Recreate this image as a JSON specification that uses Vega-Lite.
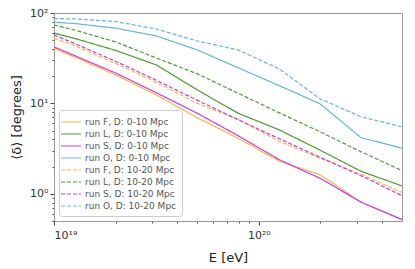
{
  "$schema": "https://vega.github.io/schema/vega-lite/v6.json",
  "width": 348,
  "height": 208,
  "autosize": {"type": "none"},
  "padding": {"left": 54, "top": 13, "right": 13, "bottom": 48},
  "background": "white",
  "config": {
    "font": "DejaVu Sans",
    "view": {"stroke": "#999999", "strokeWidth": 1}
  },
  "datasets": {
    "rows": [
      {"series": "run F, D: 0-10 Mpc", "E": 1e19, "delta": 40.5},
      {"series": "run F, D: 0-10 Mpc", "E": 1.259e19, "delta": 32.6},
      {"series": "run F, D: 0-10 Mpc", "E": 1.995e19, "delta": 20.7},
      {"series": "run F, D: 0-10 Mpc", "E": 3.162e19, "delta": 12.4},
      {"series": "run F, D: 0-10 Mpc", "E": 5.012e19, "delta": 6.92},
      {"series": "run F, D: 0-10 Mpc", "E": 7.943e19, "delta": 4.10},
      {"series": "run F, D: 0-10 Mpc", "E": 1.259e20, "delta": 2.29},
      {"series": "run F, D: 0-10 Mpc", "E": 1.995e20, "delta": 1.62},
      {"series": "run F, D: 0-10 Mpc", "E": 3.162e20, "delta": 0.806},
      {"series": "run F, D: 0-10 Mpc", "E": 5.012e20, "delta": 0.52},
      {"series": "run L, D: 0-10 Mpc", "E": 1e19, "delta": 60},
      {"series": "run L, D: 0-10 Mpc", "E": 1.259e19, "delta": 52.4},
      {"series": "run L, D: 0-10 Mpc", "E": 1.995e19, "delta": 38.6},
      {"series": "run L, D: 0-10 Mpc", "E": 3.162e19, "delta": 26.6},
      {"series": "run L, D: 0-10 Mpc", "E": 5.012e19, "delta": 14.1},
      {"series": "run L, D: 0-10 Mpc", "E": 7.943e19, "delta": 7.76},
      {"series": "run L, D: 0-10 Mpc", "E": 1.259e20, "delta": 5.09},
      {"series": "run L, D: 0-10 Mpc", "E": 1.995e20, "delta": 3.03},
      {"series": "run L, D: 0-10 Mpc", "E": 3.162e20, "delta": 1.77},
      {"series": "run L, D: 0-10 Mpc", "E": 5.012e20, "delta": 1.22},
      {"series": "run S, D: 0-10 Mpc", "E": 1e19, "delta": 42.1},
      {"series": "run S, D: 0-10 Mpc", "E": 1.259e19, "delta": 33.8},
      {"series": "run S, D: 0-10 Mpc", "E": 1.995e19, "delta": 21.7},
      {"series": "run S, D: 0-10 Mpc", "E": 3.162e19, "delta": 13.1},
      {"series": "run S, D: 0-10 Mpc", "E": 5.012e19, "delta": 7.76},
      {"series": "run S, D: 0-10 Mpc", "E": 7.943e19, "delta": 4.38},
      {"series": "run S, D: 0-10 Mpc", "E": 1.259e20, "delta": 2.38},
      {"series": "run S, D: 0-10 Mpc", "E": 1.995e20, "delta": 1.48},
      {"series": "run S, D: 0-10 Mpc", "E": 3.162e20, "delta": 0.806},
      {"series": "run S, D: 0-10 Mpc", "E": 5.012e20, "delta": 0.516},
      {"series": "run O, D: 0-10 Mpc", "E": 1e19, "delta": 79},
      {"series": "run O, D: 0-10 Mpc", "E": 1.259e19, "delta": 76.5},
      {"series": "run O, D: 0-10 Mpc", "E": 1.995e19, "delta": 68},
      {"series": "run O, D: 0-10 Mpc", "E": 3.162e19, "delta": 55.7},
      {"series": "run O, D: 0-10 Mpc", "E": 5.012e19, "delta": 39},
      {"series": "run O, D: 0-10 Mpc", "E": 7.943e19, "delta": 24.7},
      {"series": "run O, D: 0-10 Mpc", "E": 1.259e20, "delta": 15.7},
      {"series": "run O, D: 0-10 Mpc", "E": 1.995e20, "delta": 9.87},
      {"series": "run O, D: 0-10 Mpc", "E": 3.162e20, "delta": 4.16},
      {"series": "run O, D: 0-10 Mpc", "E": 5.012e20, "delta": 3.2},
      {"series": "run F, D: 10-20 Mpc", "E": 1e19, "delta": 52.5},
      {"series": "run F, D: 10-20 Mpc", "E": 1.259e19, "delta": 43.7},
      {"series": "run F, D: 10-20 Mpc", "E": 1.995e19, "delta": 27.7},
      {"series": "run F, D: 10-20 Mpc", "E": 3.162e19, "delta": 17.1},
      {"series": "run F, D: 10-20 Mpc", "E": 5.012e19, "delta": 10.0},
      {"series": "run F, D: 10-20 Mpc", "E": 7.943e19, "delta": 6.65},
      {"series": "run F, D: 10-20 Mpc", "E": 1.259e20, "delta": 3.80},
      {"series": "run F, D: 10-20 Mpc", "E": 1.995e20, "delta": 2.47},
      {"series": "run F, D: 10-20 Mpc", "E": 3.162e20, "delta": 1.64},
      {"series": "run F, D: 10-20 Mpc", "E": 5.012e20, "delta": 1.03},
      {"series": "run L, D: 10-20 Mpc", "E": 1e19, "delta": 73.6},
      {"series": "run L, D: 10-20 Mpc", "E": 1.259e19, "delta": 64.9},
      {"series": "run L, D: 10-20 Mpc", "E": 1.995e19, "delta": 47.9},
      {"series": "run L, D: 10-20 Mpc", "E": 3.162e19, "delta": 31.8},
      {"series": "run L, D: 10-20 Mpc", "E": 5.012e19, "delta": 21.2},
      {"series": "run L, D: 10-20 Mpc", "E": 7.943e19, "delta": 12.9},
      {"series": "run L, D: 10-20 Mpc", "E": 1.259e20, "delta": 7.85},
      {"series": "run L, D: 10-20 Mpc", "E": 1.995e20, "delta": 4.84},
      {"series": "run L, D: 10-20 Mpc", "E": 3.162e20, "delta": 2.91},
      {"series": "run L, D: 10-20 Mpc", "E": 5.012e20, "delta": 1.80},
      {"series": "run S, D: 10-20 Mpc", "E": 1e19, "delta": 57.1},
      {"series": "run S, D: 10-20 Mpc", "E": 1.259e19, "delta": 46},
      {"series": "run S, D: 10-20 Mpc", "E": 1.995e19, "delta": 29.3},
      {"series": "run S, D: 10-20 Mpc", "E": 3.162e19, "delta": 18.0},
      {"series": "run S, D: 10-20 Mpc", "E": 5.012e19, "delta": 10.8},
      {"series": "run S, D: 10-20 Mpc", "E": 7.943e19, "delta": 6.58},
      {"series": "run S, D: 10-20 Mpc", "E": 1.259e20, "delta": 4.06},
      {"series": "run S, D: 10-20 Mpc", "E": 1.995e20, "delta": 2.53},
      {"series": "run S, D: 10-20 Mpc", "E": 3.162e20, "delta": 1.58},
      {"series": "run S, D: 10-20 Mpc", "E": 5.012e20, "delta": 0.95},
      {"series": "run O, D: 10-20 Mpc", "E": 1e19, "delta": 87},
      {"series": "run O, D: 10-20 Mpc", "E": 1.259e19, "delta": 86},
      {"series": "run O, D: 10-20 Mpc", "E": 1.995e19, "delta": 80.5},
      {"series": "run O, D: 10-20 Mpc", "E": 3.162e19, "delta": 66.5},
      {"series": "run O, D: 10-20 Mpc", "E": 5.012e19, "delta": 49},
      {"series": "run O, D: 10-20 Mpc", "E": 7.943e19, "delta": 39},
      {"series": "run O, D: 10-20 Mpc", "E": 1.259e20, "delta": 24},
      {"series": "run O, D: 10-20 Mpc", "E": 1.995e20, "delta": 11.2},
      {"series": "run O, D: 10-20 Mpc", "E": 3.162e20, "delta": 7.1},
      {"series": "run O, D: 10-20 Mpc", "E": 5.012e20, "delta": 5.5}
    ]
  },
  "data": {"name": "rows"},
  "mark": {"type": "line", "clip": true, "strokeWidth": 1.2},
  "encoding": {
    "x": {
      "field": "E",
      "type": "quantitative",
      "scale": {"type": "log", "domain": [1e19, 5e20], "nice": false},
      "axis": {
        "title": "E [eV]",
        "titleFontSize": 13,
        "titleFontWeight": "normal",
        "titleColor": "#222222",
        "titlePadding": 11,
        "values": [1e19, 2e19, 3e19, 4e19, 5e19, 6e19, 7e19, 8e19, 9e19, 1e20, 2e20, 3e20, 4e20],
        "labelExpr": "datum.value == 1e19 ? '10¹⁹' : datum.value == 1e20 ? '10²⁰' : ''",
        "labelFontSize": 11,
        "labelColor": "#333333",
        "labelPadding": 4,
        "tickSize": {"expr": "datum.value == 1e19 || datum.value == 1e20 ? 4 : 2"},
        "tickColor": "#444444",
        "domainColor": "#999999",
        "grid": false
      }
    },
    "y": {
      "field": "delta",
      "type": "quantitative",
      "scale": {"type": "log", "domain": [0.5, 100], "nice": false},
      "axis": {
        "title": "⟨δ⟩ [degrees]",
        "titleFontSize": 13,
        "titleFontWeight": "normal",
        "titleColor": "#222222",
        "titlePadding": 6,
        "values": [0.5, 0.6, 0.7, 0.8, 0.9, 1, 2, 3, 4, 5, 6, 7, 8, 9, 10, 20, 30, 40, 50, 60, 70, 80, 90, 100],
        "labelExpr": "datum.value == 1 ? '10⁰' : datum.value == 10 ? '10¹' : datum.value == 100 ? '10²' : ''",
        "labelFontSize": 11,
        "labelColor": "#333333",
        "labelPadding": 2,
        "tickSize": {"expr": "datum.value == 1 || datum.value == 10 || datum.value == 100 ? 4 : 2"},
        "tickColor": "#444444",
        "domainColor": "#999999",
        "grid": false
      }
    },
    "color": {
      "field": "series",
      "type": "nominal",
      "scale": {
        "domain": ["run F, D: 0-10 Mpc", "run L, D: 0-10 Mpc", "run S, D: 0-10 Mpc", "run O, D: 0-10 Mpc", "run F, D: 10-20 Mpc", "run L, D: 10-20 Mpc", "run S, D: 10-20 Mpc", "run O, D: 10-20 Mpc"],
        "range": ["#ffb14e", "#4a9a3a", "#c03fdf", "#67b3dc", "#ffb14e", "#4a9a3a", "#c03fdf", "#67b3dc"]
      },
      "legend": {
        "title": null,
        "orient": "bottom-left",
        "offset": 5,
        "symbolType": "M-1.7,0H1.7",
        "symbolSize": 140,
        "symbolStrokeWidth": 1.2,
        "labelFontSize": 9,
        "labelColor": "#555555",
        "labelOffset": 7,
        "rowPadding": 0,
        "padding": 5,
        "fillColor": "white",
        "strokeColor": "#cccccc",
        "cornerRadius": 3
      }
    },
    "strokeDash": {
      "field": "series",
      "type": "nominal",
      "scale": {
        "domain": ["run F, D: 0-10 Mpc", "run L, D: 0-10 Mpc", "run S, D: 0-10 Mpc", "run O, D: 0-10 Mpc", "run F, D: 10-20 Mpc", "run L, D: 10-20 Mpc", "run S, D: 10-20 Mpc", "run O, D: 10-20 Mpc"],
        "range": [[1, 0], [1, 0], [1, 0], [1, 0], [4, 2], [4, 2], [4, 2], [4, 2]]
      },
      "legend": null
    }
  }
}
